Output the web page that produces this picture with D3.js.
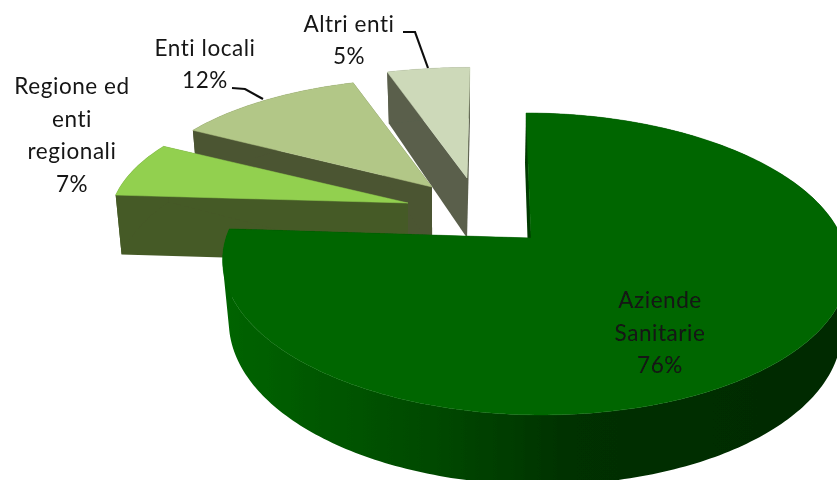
<!DOCTYPE html>
<html><head><meta charset="utf-8">
<script src="https://cdn.jsdelivr.net/npm/d3@7"></script>
<style>html,body{margin:0;padding:0;background:#fff;overflow:hidden}svg{display:block}text{font-family:Lato,"Open Sans",sans-serif;font-size:22.5px;letter-spacing:.55px;fill:#141414;text-anchor:middle}</style>
</head><body><svg id="c" width="837" height="480"></svg>
<script>
const categories = ["Aziende Sanitarie", "Regione ed enti regionali", "Enti locali", "Altri enti"];
const values = [76, 7, 12, 5];
const topColors = ["#006600", "#92d050", "#b2c787", "#cdd9b9"];
const wallColors = ["#003a00", "#455a26", "#4c5433", "#5a5f4c"];

// layout of each exploded slice
const apexX = [531, 408, 432, 467];
const apexY = [238, 203, 187, 178];
const scaleX = [1, 0.935, 0.98, 1.017];
const scaleY = [1, 0.87, 0.87, 0.885];
const shiftX = [3, -7.5, 9, 11];
const labelLines = [["Aziende", "Sanitarie", "76%"], ["Regione ed", "enti", "regionali", "7%"], ["Enti locali", "12%"], ["Altri enti", "5%"]];
const labelX = [660, 72, 205, 349];
const labelY = [308, 94, 56, 32];
const labelStep = [32.5, 32.5, 32, 32];

const svg = d3.select("#c");
const pieGen = d3.pie().sort(null).value(d => d);
const arcs = pieGen(values);

// perspective projection of a rim point, relative to a slice's apex
const R = 308, K = 146.5, P = 0.172;
function topPt(i, a) {
  const z = Math.cos(a), x = Math.sin(a), w = 1 + P * z;
  return [apexX[i] + scaleX[i] * R * x / w + shiftX[i] - 8 * z, apexY[i] - scaleY[i] * K * z / w, scaleY[i] * z];
}
function lowPt(p, i) {
  const cx = apexX[i] + 3;
  return [cx + (p[0] - cx) * 0.98, p[1] + 60 - 10 * p[2]];
}
const line = d3.line();

const defs = svg.append("defs");
const grad = defs.append("linearGradient").attr("id", "mainWall")
  .attr("gradientUnits", "userSpaceOnUse").attr("x1", 222).attr("x2", 850).attr("y1", 0).attr("y2", 0);
[[0, "#006400"], [0.12, "#005a00"], [0.3, "#004c00"], [0.46, "#003c00"], [0.56, "#003000"], [1, "#002a00"]]
  .forEach(([o, c]) => grad.append("stop").attr("offset", o).attr("stop-color", c));
defs.append("filter").attr("id", "soft").attr("x", 0).attr("y", 0).attr("width", 1).attr("height", 1)
  .append("feGaussianBlur").attr("stdDeviation", 0.45);

const root = svg.append("g").attr("filter", "url(#soft)");
root.append("rect").attr("width", 837).attr("height", 480).attr("fill", "#fff");

function drawSlice(i) {
  const d = arcs[i];
  const n = Math.max(16, Math.round((d.endAngle - d.startAngle) * 60));
  const angles = d3.range(n + 1).map(k => d.startAngle + (d.endAngle - d.startAngle) * k / n);
  const rimPts = angles.map(a => topPt(i, a));
  const apex = [apexX[i], apexY[i], 0];
  const g = root.append("g").attr("class", "slice");
  const fill = i === 0 ? "url(#mainWall)" : wallColors[i];
  // flat cut faces
  [rimPts[0], rimPts[n]].forEach(p => {
    const quad = [[p[0], p[1]], [apex[0], apex[1]], lowPt(apex, i), lowPt(p, i)];
    g.append("path").attr("d", line(quad) + "Z").attr("fill", wallColors[i]);
  });
  // outer curved wall: every facet wound the same way in one path, so the union has no seams
  const wall = d3.pairs(rimPts).map(([a, b]) => {
    const quad = [[a[0], a[1]], [b[0], b[1]], lowPt(b, i), lowPt(a, i)];
    if (d3.polygonArea(quad) < 0) quad.reverse();
    return line(quad) + "Z";
  }).join("");
  g.append("path").attr("d", wall).attr("fill", fill).attr("fill-rule", "nonzero");
  // sliver of the main slice's inner face seen along its straight edge
  if (i === 0) {
    const p = rimPts[0];
    g.append("path").attr("d", line([[p[0], p[1]], [apex[0], apex[1]], [apex[0] - 3.5, apex[1]], [p[0] - 1, p[1] + 50]]) + "Z").attr("fill", "#003a00");
  }
  // top surface
  g.append("path").attr("d", line([[apex[0], apex[1]]].concat(rimPts.map(p => [p[0], p[1]]))) + "Z")
    .attr("fill", topColors[i]).attr("stroke", topColors[i]).attr("stroke-width", 0.5);
}
// far slices first, so nearer ones cover them
[3, 2, 1, 0].forEach(drawSlice);

// leader lines
const leaders = [[[403, 32], [415, 32], [428, 68]], [[232, 88], [245, 89], [263, 99]]];
leaders.forEach(l => root.append("path").attr("d", line(l)).attr("fill", "none").attr("stroke", "#111").attr("stroke-width", 2.2));

// labels
categories.forEach((c, i) => {
  const t = root.append("text").attr("aria-label", c);
  labelLines[i].forEach((s, j) => t.append("tspan").attr("x", labelX[i]).attr("y", labelY[i] + j * labelStep[i]).text(s));
});
</script></body></html>
